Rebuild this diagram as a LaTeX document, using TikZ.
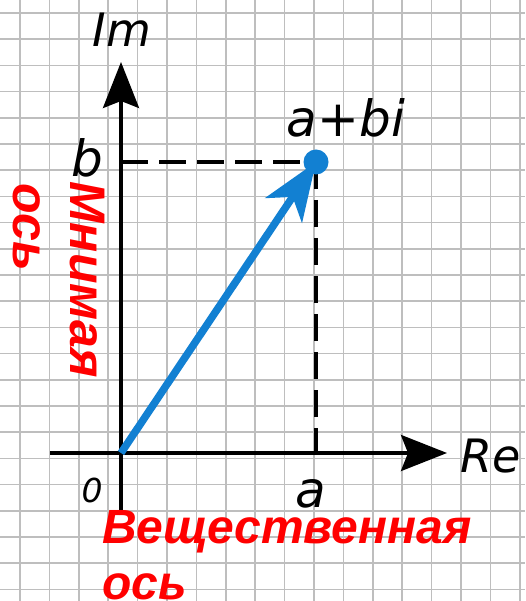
\documentclass[tikz,border=0pt]{standalone}
\usepackage{fontspec}
\usetikzlibrary{arrows.meta}
\newfontfamily\lblfont{DejaVu Sans}
\newfontfamily\redfont{Liberation Sans}
\definecolor{vecblue}{RGB}{18,128,210}
\definecolor{gridgray}{RGB}{190,190,190}
\begin{document}
\begin{tikzpicture}[x=1pt,y=1pt,
  gridline/.style={gridgray,line width=1.6pt},
  axisline/.style={line width=3.5pt,-{Stealth[length=46pt,width=36pt,inset=7pt]}},
  dashline/.style={line width=3.5pt,dash pattern=on 27pt off 11pt},
  vecline/.style={vecblue,line width=7.5pt,-{Stealth[length=58pt,width=44pt,inset=16pt]}},
  lblA/.style={font=\lblfont\itshape\fontsize{50}{60}\selectfont,inner sep=0pt,anchor=base},
  lblB/.style={font=\lblfont\itshape\fontsize{46}{55}\selectfont,inner sep=0pt,anchor=base},
  lblC/.style={font=\lblfont\itshape\fontsize{33}{40}\selectfont,inner sep=0pt,anchor=base},
  redlbl/.style={red,font=\redfont\bfseries\itshape\fontsize{48}{57}\selectfont,inner sep=0pt,anchor=base west},
  redrot/.style={red,font=\redfont\bfseries\itshape\fontsize{50}{57}\selectfont,inner sep=0pt,anchor=base west,rotate=-90}]
\useasboundingbox (0,-601) rectangle (525,0);
\fill[white] (0,-601) rectangle (525,0);
\foreach \i in {0,...,17} \draw[gridline] ({20+29.4*\i},0) -- ({20+29.4*\i},-601);
\foreach \j in {0,...,22} \draw[gridline] (0,{-13-26.2*\j}) -- (525,{-13-26.2*\j});
\coordinate (O) at (121,-453);
\coordinate (ImStart) at (121,-515);
\coordinate (ImEnd) at (121,-62);
\coordinate (ReStart) at (50,-453);
\coordinate (ReEnd) at (447,-453);
\coordinate (P) at (316,-162);
\coordinate (Bp) at (121,-162);
\coordinate (Ap) at (316,-453);
\draw[axisline] (ImStart) -- (ImEnd);
\draw[axisline] (ReStart) -- (ReEnd);
\draw[dashline] (Bp) -- (P);
\draw[dashline] (P) -- (Ap);
\draw[vecline] (O) -- (P);
\node[circle,fill=vecblue,minimum size=25pt,inner sep=0pt] (dot) at (P) {};
\node[lblB] (im) at (122,-47) {Im};
\node[lblA] (b) at (87,-177) {b};
\node[lblA] (z) at (346,-137) {a+bi};
\node[lblB] (re) at (491,-472) {Re};
\node[lblA] (a) at (311,-507) {a};
\node[lblC] (zero) at (92,-502) {0};
\node[redlbl] (re1) at (102,-543) {Вещественная};
\node[redlbl] (re2) at (102,-599) {ось};
\node[redrot] (im1) at (70,-181) {Мнимая};
\node[redrot] (im2) at (13,-183) {ось};
\end{tikzpicture}
\end{document}
